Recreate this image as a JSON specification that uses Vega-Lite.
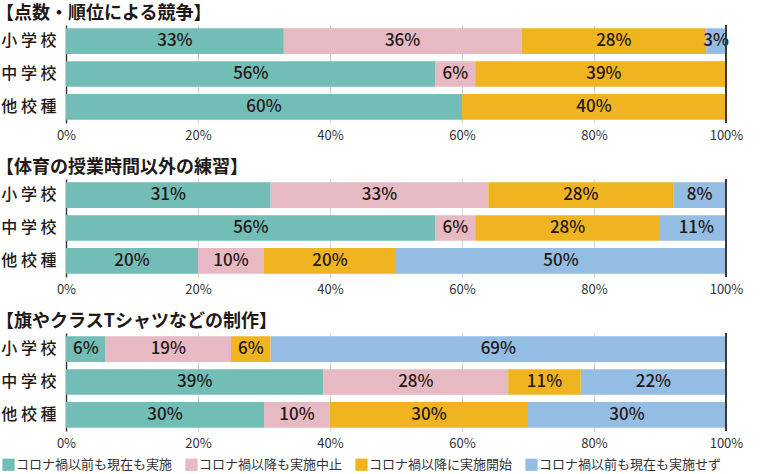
{
  "$schema": "https://vega.github.io/schema/vega-lite/v6.json",
  "padding": {"left": -4, "top": 5, "right": 0, "bottom": 0},
  "background": "#ffffff",
  "config": {
    "view": {"stroke": null},
    "font": "Noto Sans CJK JP",
    "title": {"anchor": "start", "frame": "group", "fontSize": 18, "fontWeight": "bold", "color": "#231815", "offset": 1, "dx": -70, "font": "Noto Sans CJK JP"},
    "axisX": {"domain": false, "ticks": false, "labelFontSize": 13, "labelColor": "#333333", "labelPadding": 6, "labelFlush": false, "labelFont": "Noto Sans CJK JP", "title": null, "labelExpr": "datum.value + '%'", "gridColor": "#d2d2d2", "gridWidth": 1},
    "axisY": {"domainColor": "#3a3a3a", "domainWidth": 1.5, "ticks": false, "grid": false, "labelFontSize": 16, "labelFontWeight": 500, "labelColor": "#231815", "labelPadding": 10, "minExtent": 63, "maxExtent": 63, "title": null, "labelExpr": "join(split(datum.label, ''), ' ')"},
    "legend": {"symbolType": "square", "symbolSize": 150, "symbolStrokeWidth": 0, "labelFontSize": 13, "labelColor": "#333333", "labelFont": "Noto Sans CJK JP", "labelLimit": 300, "title": null, "orient": "none", "legendX": -64, "legendY": 433, "direction": "horizontal", "columnPadding": 12, "symbolOffset": 0, "labelOffset": 1}
  },
  "datasets": {
    "d": [
      {"panel": "A", "school": "小学校", "category": "コロナ禍以前も現在も実施", "value": 33},
      {"panel": "A", "school": "小学校", "category": "コロナ禍以降も実施中止", "value": 36},
      {"panel": "A", "school": "小学校", "category": "コロナ禍以降に実施開始", "value": 28},
      {"panel": "A", "school": "小学校", "category": "コロナ禍以前も現在も実施せず", "value": 3},
      {"panel": "A", "school": "中学校", "category": "コロナ禍以前も現在も実施", "value": 56},
      {"panel": "A", "school": "中学校", "category": "コロナ禍以降も実施中止", "value": 6},
      {"panel": "A", "school": "中学校", "category": "コロナ禍以降に実施開始", "value": 39},
      {"panel": "A", "school": "他校種", "category": "コロナ禍以前も現在も実施", "value": 60},
      {"panel": "A", "school": "他校種", "category": "コロナ禍以降に実施開始", "value": 40},
      {"panel": "B", "school": "小学校", "category": "コロナ禍以前も現在も実施", "value": 31},
      {"panel": "B", "school": "小学校", "category": "コロナ禍以降も実施中止", "value": 33},
      {"panel": "B", "school": "小学校", "category": "コロナ禍以降に実施開始", "value": 28},
      {"panel": "B", "school": "小学校", "category": "コロナ禍以前も現在も実施せず", "value": 8},
      {"panel": "B", "school": "中学校", "category": "コロナ禍以前も現在も実施", "value": 56},
      {"panel": "B", "school": "中学校", "category": "コロナ禍以降も実施中止", "value": 6},
      {"panel": "B", "school": "中学校", "category": "コロナ禍以降に実施開始", "value": 28},
      {"panel": "B", "school": "中学校", "category": "コロナ禍以前も現在も実施せず", "value": 11},
      {"panel": "B", "school": "他校種", "category": "コロナ禍以前も現在も実施", "value": 20},
      {"panel": "B", "school": "他校種", "category": "コロナ禍以降も実施中止", "value": 10},
      {"panel": "B", "school": "他校種", "category": "コロナ禍以降に実施開始", "value": 20},
      {"panel": "B", "school": "他校種", "category": "コロナ禍以前も現在も実施せず", "value": 50},
      {"panel": "C", "school": "小学校", "category": "コロナ禍以前も現在も実施", "value": 6},
      {"panel": "C", "school": "小学校", "category": "コロナ禍以降も実施中止", "value": 19},
      {"panel": "C", "school": "小学校", "category": "コロナ禍以降に実施開始", "value": 6},
      {"panel": "C", "school": "小学校", "category": "コロナ禍以前も現在も実施せず", "value": 69},
      {"panel": "C", "school": "中学校", "category": "コロナ禍以前も現在も実施", "value": 39},
      {"panel": "C", "school": "中学校", "category": "コロナ禍以降も実施中止", "value": 28},
      {"panel": "C", "school": "中学校", "category": "コロナ禍以降に実施開始", "value": 11},
      {"panel": "C", "school": "中学校", "category": "コロナ禍以前も現在も実施せず", "value": 22},
      {"panel": "C", "school": "他校種", "category": "コロナ禍以前も現在も実施", "value": 30},
      {"panel": "C", "school": "他校種", "category": "コロナ禍以降も実施中止", "value": 10},
      {"panel": "C", "school": "他校種", "category": "コロナ禍以降に実施開始", "value": 30},
      {"panel": "C", "school": "他校種", "category": "コロナ禍以前も現在も実施せず", "value": 30}
    ]
  },
  "spacing": 17,
  "vconcat": [
    {
      "title": "【点数・順位による競争】",
      "width": 660, "height": 98,
      "data": {"name": "d"},
      "transform": [
        {"filter": "datum.panel === 'A'"},
        {"calculate": "indexof(['コロナ禍以前も現在も実施', 'コロナ禍以降も実施中止', 'コロナ禍以降に実施開始', 'コロナ禍以前も現在も実施せず'], datum.category)", "as": "rank"},
        {"calculate": "datum.value + '%'", "as": "label"}
      ],
      "encoding": {
        "y": {"field": "school", "type": "nominal", "sort": ["小学校", "中学校", "他校種"], "scale": {"paddingInner": 0.22, "paddingOuter": 0.1}},
        "x": {"field": "value", "type": "quantitative", "stack": "zero", "scale": {"domain": [0, 100], "nice": false}, "axis": {"grid": true, "values": [0, 20, 40, 60, 80, 100]}},
        "order": {"field": "rank", "type": "quantitative"},
        "color": {"field": "category", "type": "nominal", "sort": ["コロナ禍以前も現在も実施", "コロナ禍以降も実施中止", "コロナ禍以降に実施開始", "コロナ禍以前も現在も実施せず"], "scale": {"domain": ["コロナ禍以前も現在も実施", "コロナ禍以降も実施中止", "コロナ禍以降に実施開始", "コロナ禍以前も現在も実施せず"], "range": ["#72bdb5", "#e7b9c2", "#efb41f", "#93bde2"]}}
      },
      "layer": [
        {"mark": {"type": "bar", "clip": true}},
        {"mark": {"type": "text", "fontSize": 17, "fontWeight": 500, "color": "#231815"},
         "encoding": {"x": {"field": "value", "type": "quantitative", "stack": "zero", "bandPosition": 0.5}, "text": {"field": "label", "type": "nominal"}, "color": {"value": "#231815"}, "detail": {"field": "category"}}},
        {"mark": {"type": "rule", "color": "#3a3a3a", "strokeWidth": 1.5}, "encoding": {"x": {"datum": 100}, "y": null, "color": null, "order": null}}
      ]
    },
    {
      "title": "【体育の授業時間以外の練習】",
      "width": 660, "height": 98,
      "data": {"name": "d"},
      "transform": [
        {"filter": "datum.panel === 'B'"},
        {"calculate": "indexof(['コロナ禍以前も現在も実施', 'コロナ禍以降も実施中止', 'コロナ禍以降に実施開始', 'コロナ禍以前も現在も実施せず'], datum.category)", "as": "rank"},
        {"calculate": "datum.value + '%'", "as": "label"}
      ],
      "encoding": {
        "y": {"field": "school", "type": "nominal", "sort": ["小学校", "中学校", "他校種"], "scale": {"paddingInner": 0.22, "paddingOuter": 0.1}},
        "x": {"field": "value", "type": "quantitative", "stack": "zero", "scale": {"domain": [0, 100], "nice": false}, "axis": {"grid": true, "values": [0, 20, 40, 60, 80, 100]}},
        "order": {"field": "rank", "type": "quantitative"},
        "color": {"field": "category", "type": "nominal", "sort": ["コロナ禍以前も現在も実施", "コロナ禍以降も実施中止", "コロナ禍以降に実施開始", "コロナ禍以前も現在も実施せず"]}
      },
      "layer": [
        {"mark": {"type": "bar", "clip": true}},
        {"mark": {"type": "text", "fontSize": 17, "fontWeight": 500, "color": "#231815"},
         "encoding": {"x": {"field": "value", "type": "quantitative", "stack": "zero", "bandPosition": 0.5}, "text": {"field": "label", "type": "nominal"}, "color": {"value": "#231815"}, "detail": {"field": "category"}}},
        {"mark": {"type": "rule", "color": "#3a3a3a", "strokeWidth": 1.5}, "encoding": {"x": {"datum": 100}, "y": null, "color": null, "order": null}}
      ]
    },
    {
      "title": "【旗やクラスTシャツなどの制作】",
      "width": 660, "height": 98,
      "data": {"name": "d"},
      "transform": [
        {"filter": "datum.panel === 'C'"},
        {"calculate": "indexof(['コロナ禍以前も現在も実施', 'コロナ禍以降も実施中止', 'コロナ禍以降に実施開始', 'コロナ禍以前も現在も実施せず'], datum.category)", "as": "rank"},
        {"calculate": "datum.value + '%'", "as": "label"}
      ],
      "encoding": {
        "y": {"field": "school", "type": "nominal", "sort": ["小学校", "中学校", "他校種"], "scale": {"paddingInner": 0.22, "paddingOuter": 0.1}},
        "x": {"field": "value", "type": "quantitative", "stack": "zero", "scale": {"domain": [0, 100], "nice": false}, "axis": {"grid": true, "values": [0, 20, 40, 60, 80, 100]}},
        "order": {"field": "rank", "type": "quantitative"},
        "color": {"field": "category", "type": "nominal", "sort": ["コロナ禍以前も現在も実施", "コロナ禍以降も実施中止", "コロナ禍以降に実施開始", "コロナ禍以前も現在も実施せず"]}
      },
      "layer": [
        {"mark": {"type": "bar", "clip": true}},
        {"mark": {"type": "text", "fontSize": 17, "fontWeight": 500, "color": "#231815"},
         "encoding": {"x": {"field": "value", "type": "quantitative", "stack": "zero", "bandPosition": 0.5}, "text": {"field": "label", "type": "nominal"}, "color": {"value": "#231815"}, "detail": {"field": "category"}}},
        {"mark": {"type": "rule", "color": "#3a3a3a", "strokeWidth": 1.5}, "encoding": {"x": {"datum": 100}, "y": null, "color": null, "order": null}}
      ]
    }
  ],
  "resolve": {"scale": {"color": "shared"}}
}
